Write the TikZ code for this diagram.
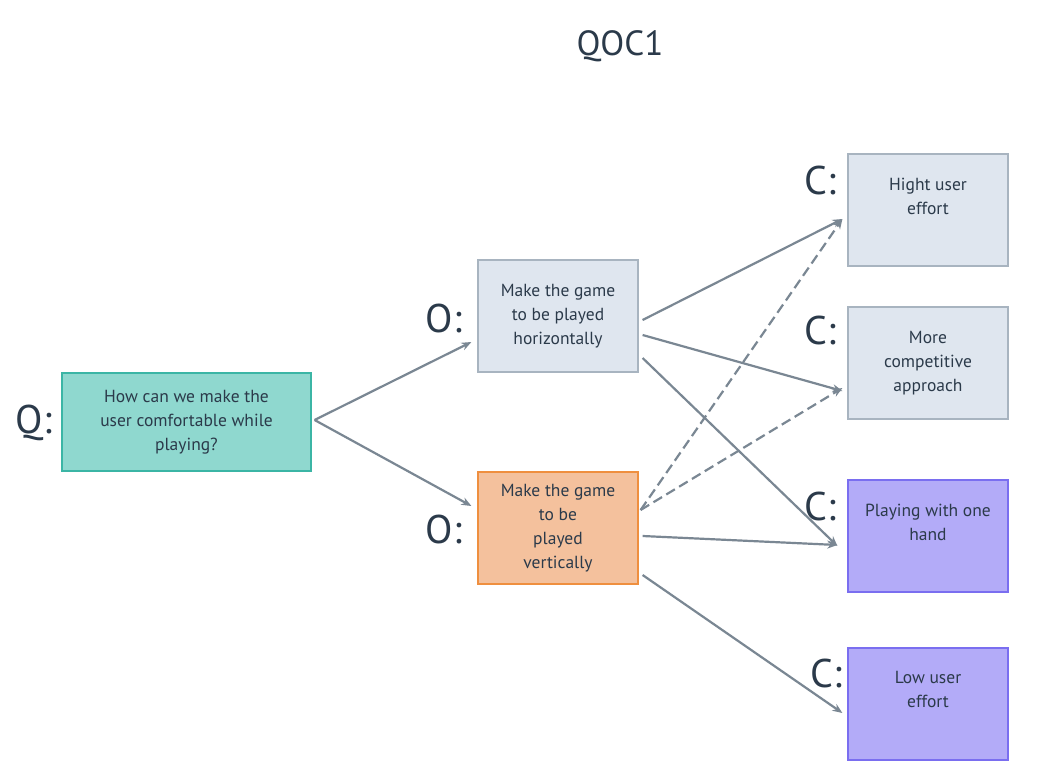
\documentclass[tikz,border=0pt]{standalone}
\usepackage{fontspec}
\setmainfont{PT Sans}
\usetikzlibrary{calc,arrows.meta}
\definecolor{txt}{HTML}{2B3A4A}
\definecolor{arr}{HTML}{7A8793}
\definecolor{qfill}{HTML}{8FD8CF}
\definecolor{qdraw}{HTML}{3BB5A5}
\definecolor{bfill}{HTML}{DFE6EF}
\definecolor{bdraw}{HTML}{A8B4C0}
\definecolor{ofill}{HTML}{F4C19D}
\definecolor{odraw}{HTML}{EF8F3F}
\definecolor{pfill}{HTML}{B3ABF8}
\definecolor{pdraw}{HTML}{7A6EF0}
\begin{document}
\begin{tikzpicture}[x=1pt,y=-1pt,
  boxbase/.style={draw, line width=1.2pt, inner sep=0pt, text=txt, align=center,
    font=\fontsize{17.5}{24}\selectfont},
  qbox/.style={boxbase, fill=qfill, draw=qdraw, minimum width=249pt, minimum height=98pt},
  obox/.style={boxbase, fill=bfill, draw=bdraw, minimum width=160pt, minimum height=112pt},
  vbox/.style={boxbase, fill=ofill, draw=odraw, minimum width=160pt, minimum height=112pt},
  cbox/.style={boxbase, fill=bfill, draw=bdraw, minimum width=160pt, minimum height=112pt},
  pbox/.style={boxbase, fill=pfill, draw=pdraw, minimum width=160pt, minimum height=112pt},
  ctext/.style={text=txt, align=center, font=\fontsize{17.5}{24}\selectfont, anchor=north, inner sep=0pt},
  big/.style={text=txt, font=\fontsize{40}{42}\selectfont, inner sep=0pt},
  conn/.style={draw=arr, line width=2.2pt, -{Stealth[length=10pt,width=8pt]}},
  dconn/.style={conn, dash pattern=on 10pt off 5pt}]
\useasboundingbox[fill=white] (0,0) rectangle (1056,781);

\node[text=txt, font=\fontsize{35}{36}\selectfont, inner sep=0pt] (title) at (620,46) {QOC1};

\node[qbox] (q) at (186.5,422) {How can we make the\\user comfortable while\\playing?};
\node[obox] (o1) at (558,316) {Make the game\\to be played\\horizontally};
\node[vbox] (o2) at (558,528) {Make the game\\to be\\played\\vertically};
\node[cbox, label={[ctext, yshift=-25pt]north:{Hight user\\effort}}] (c1) at (928,210) {};
\node[cbox, label={[ctext, yshift=-25pt]north:{More\\competitive\\approach}}] (c2) at (928,363) {};
\node[pbox, label={[ctext, yshift=-25pt]north:{Playing with one\\hand}}] (c3) at (928,536) {};
\node[pbox, label={[ctext, yshift=-24pt]north:{Low user\\effort}}] (c4) at (928,704) {};

\node[big] (lq) at (34,423) {Q:};
\node[big] (lo1) at (444,318) {O:};
\node[big] (lo2) at (444,529) {O:};
\node[big] (lc1) at (820,180) {C:};
\node[big] (lc2) at (820,330) {C:};
\node[big] (lc3) at (820,506) {C:};
\node[big] (lc4) at (826,673) {C:};

\draw[conn] ($(q.east)+(3,-2)$) -- ($(o1.west)+(-6,26)$);
\draw[conn] ($(q.east)+(3,-2)$) -- ($(o2.west)+(-6,-22)$);
\draw[conn] ($(o1.east)+(4,4)$) -- ($(c1.west)+(-5,9)$);
\draw[conn] ($(o1.east)+(4,19)$) -- ($(c2.west)+(-5,28)$);
\draw[conn] ($(o1.east)+(4,42)$) -- ($(c3.west)+(-10,10)$);
\draw[dconn] ($(o2.east)+(2,-18)$) -- ($(c1.west)+(-5,9)$);
\draw[dconn] ($(o2.east)+(2,-18)$) -- ($(c2.west)+(-5,25)$);
\draw[conn] ($(o2.east)+(4,8)$) -- ($(c3.west)+(-10,9)$);
\draw[conn] ($(o2.east)+(4,47)$) -- ($(c4.west)+(-5,9)$);
\end{tikzpicture}
\end{document}
